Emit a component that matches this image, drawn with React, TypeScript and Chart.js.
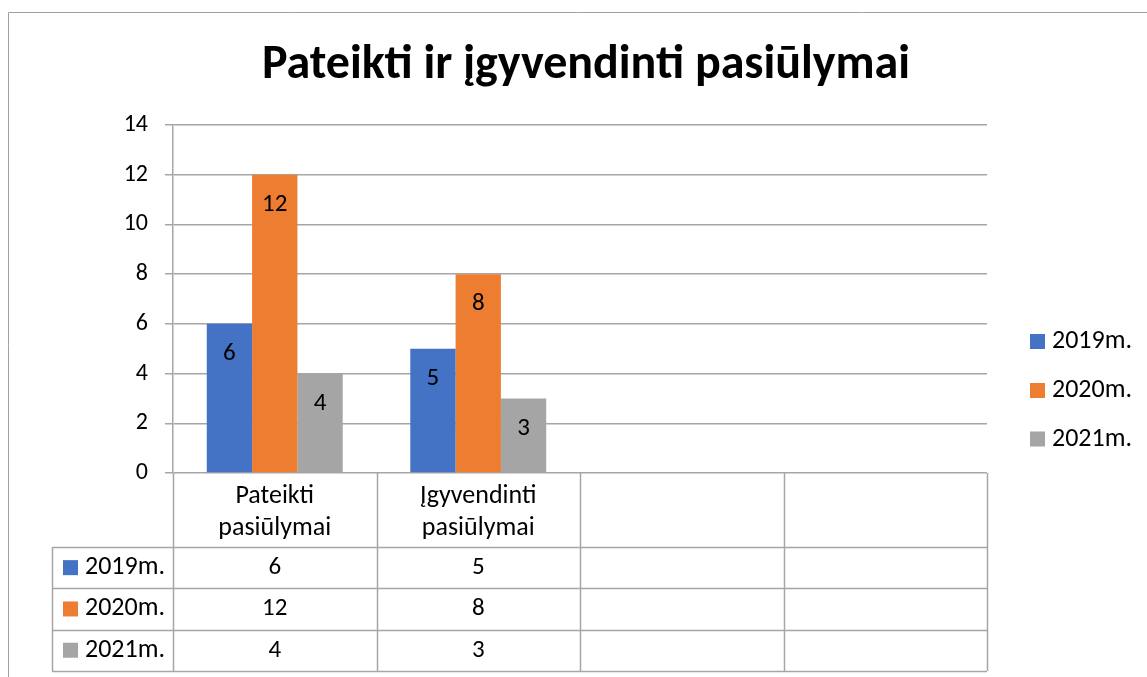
import React, { useEffect, useRef } from 'react';
import { Chart, registerables } from 'chart.js';

Chart.register(...registerables);

const TITLE = 'Pateikti ir įgyvendinti pasiūlymai';
const categories: string[][] = [['Pateikti', 'pasiūlymai'], ['Įgyvendinti', 'pasiūlymai'], [''], ['']];
const seriesNames = ['2019m.', '2020m.', '2021m.'];
const values2019 = [6, 5, null, null];
const values2020 = [12, 8, null, null];
const values2021 = [4, 3, null, null];
const seriesColors = ['#4472C4', '#ED7D31', '#A5A5A5'];
const yTicks = { min: 0, max: 14, step: 2 };

const FONT = 'Carlito, Lato, "Open Sans", sans-serif';
const LINE = '#a6a6a6';

const extrasPlugin = {
  id: 'extras',
  afterDraw(chart: any) {
    const { ctx, chartArea } = chart;
    const x = chart.scales.x;
    const n = categories.length;
    const catW = (chartArea.right - chartArea.left) / n;
    ctx.save();

    // outer frame
    ctx.strokeStyle = '#a0a0a0';
    ctx.lineWidth = 1;
    ctx.beginPath();
    ctx.moveTo(8.5, 677);
    ctx.lineTo(8.5, 12.5);
    ctx.lineTo(1147, 12.5);
    ctx.stroke();

    // title
    ctx.fillStyle = '#000';
    ctx.font = `bold 48px ${FONT}`;
    ctx.textAlign = 'center';
    ctx.textBaseline = 'middle';
    ctx.fillText(TITLE, 586, 66);

    // data labels
    ctx.font = `25px ${FONT}`;
    chart.data.datasets.forEach((ds: any, di: number) => {
      const meta = chart.getDatasetMeta(di);
      meta.data.forEach((el: any, i: number) => {
        const v = ds.data[i];
        if (v === null || v === undefined) return;
        ctx.fillText(String(v), el.x, el.y + 30);
      });
    });

    // data table
    const top = chartArea.bottom;
    const headerBottom = top + 74;
    const rowH = 41.3;
    const tableBottom = headerBottom + rowH * 3;
    const keyLeft = 52;
    ctx.strokeStyle = LINE;
    ctx.lineWidth = 1.5;
    ctx.beginPath();
    for (let r = 0; r <= 3; r++) {
      const yy = Math.round(headerBottom + rowH * r) + 0.5;
      ctx.moveTo(keyLeft, yy);
      ctx.lineTo(chartArea.right, yy);
    }
    ctx.moveTo(keyLeft + 0.5, headerBottom);
    ctx.lineTo(keyLeft + 0.5, tableBottom);
    for (let c = 0; c <= n; c++) {
      const xx = Math.round(chartArea.left + catW * c) + 0.5;
      ctx.moveTo(xx, top);
      ctx.lineTo(xx, tableBottom);
    }
    ctx.stroke();

    // header labels
    ctx.fillStyle = '#000';
    ctx.font = `26px ${FONT}`;
    categories.forEach((lines, i) => {
      const cx = x.getPixelForValue(i);
      lines.forEach((t, li) => {
        ctx.fillText(t, cx, top + 23 + li * 32);
      });
    });

    // rows
    chart.data.datasets.forEach((ds: any, di: number) => {
      const cy = headerBottom + rowH * di + rowH / 2;
      ctx.fillStyle = seriesColors[di];
      ctx.fillRect(63, cy - 7.5, 15, 15);
      ctx.fillStyle = '#000';
      ctx.textAlign = 'left';
      ctx.font = `26px ${FONT}`;
      ctx.fillText(ds.label, 85, cy);
      ctx.textAlign = 'center';
      ctx.font = `25px ${FONT}`;
      ds.data.forEach((v: any, i: number) => {
        if (v === null || v === undefined) return;
        ctx.fillText(String(v), x.getPixelForValue(i), cy);
      });
    });

    // legend
    const legendY = [341.5, 390.5, 439];
    ctx.font = `26px ${FONT}`;
    chart.data.datasets.forEach((ds: any, di: number) => {
      ctx.fillStyle = seriesColors[di];
      ctx.fillRect(1030, legendY[di] - 7.5, 15, 15);
      ctx.fillStyle = '#000';
      ctx.textAlign = 'left';
      ctx.fillText(ds.label, 1052, legendY[di]);
    });
    ctx.restore();
  },
};

export default function App() {
  const ref = useRef<HTMLCanvasElement | null>(null);
  useEffect(() => {
    if (!ref.current) return;
    const chart = new Chart(ref.current, {
      type: 'bar',
      data: {
        labels: categories.map((c) => c.join(' ')),
        datasets: [
          { label: seriesNames[0], data: values2019, backgroundColor: seriesColors[0] },
          { label: seriesNames[1], data: values2020, backgroundColor: seriesColors[1] },
          { label: seriesNames[2], data: values2021, backgroundColor: seriesColors[2] },
        ],
      },
      options: {
        responsive: false,
        animation: false,
        layout: { padding: { left: 0, right: 160, top: 125, bottom: 204 } },
        datasets: { bar: { categoryPercentage: 0.668, barPercentage: 1 } },
        plugins: { legend: { display: false }, title: { display: false }, tooltip: { enabled: false } },
        scales: {
          x: { display: false },
          y: {
            min: yTicks.min,
            max: yTicks.max,
            ticks: { stepSize: yTicks.step, color: '#000', font: { size: 24, family: FONT }, padding: 17 },
            grid: { color: LINE, lineWidth: 1.5, tickLength: 8, tickColor: LINE },
            border: { display: true, color: LINE, width: 1.5 },
            afterFit: (scale: any) => {
              scale.width = 173;
            },
          },
        },
      },
      plugins: [extrasPlugin],
    });
    return () => chart.destroy();
  }, []);
  return (
    <div style={{ position: 'fixed', left: 0, top: 0, width: 1147, height: 677, background: '#fff' }}>
      <canvas ref={ref} width={1147} height={677} />
    </div>
  );
}
